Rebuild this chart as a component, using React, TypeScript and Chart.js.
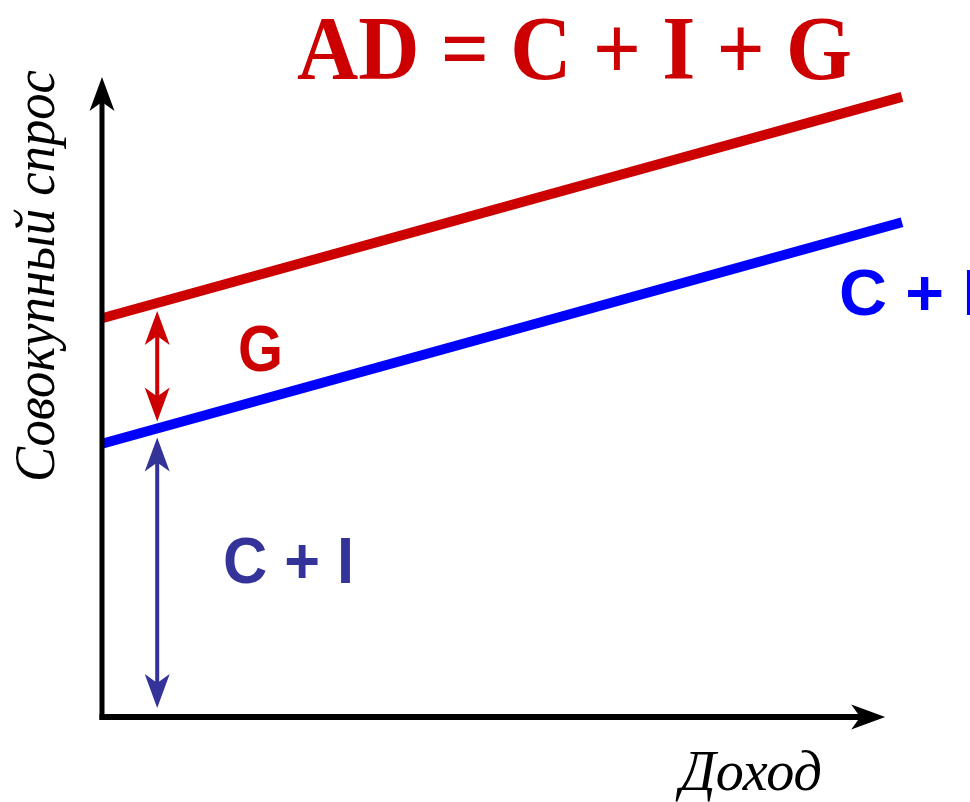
import React, { useEffect, useRef } from "react";
import { Chart, registerables } from "chart.js";

Chart.register(...registerables);

// ---- data ----
const income = [0, 100];
const aggregateDemand = [62.3, 96.9]; // AD = C + I + G
const consumptionInvestment = [42.7, 77.3]; // C + I
const titleText = "AD = C + I + G";
const yAxisTitle = "Совокупный спрос";
const xAxisTitle = "Доход";
const gLabel = "G";
const ciLabel = "C + I";
const xAxisEnd = 97.9; // arrow tip of income axis (data units)
const yAxisEnd = 100; // arrow tip of demand axis (data units)
const arrowX = 6.9; // where the G and C + I brackets stand

const RED = "#cc0000";
const BLUE = "#0000ff";
const NAVY = "#333399";

function lerpLine(values: number[], x: number) {
  const t = (x - income[0]) / (income[1] - income[0]);
  return values[0] + (values[1] - values[0]) * t;
}

function arrowHead(
  ctx: CanvasRenderingContext2D,
  tx: number,
  ty: number,
  dx: number,
  dy: number,
  color: string,
  len = 34,
  half = 12.5,
  notch = 25
) {
  const px = -dy;
  const py = dx;
  ctx.beginPath();
  ctx.moveTo(tx, ty);
  ctx.lineTo(tx - dx * len + px * half, ty - dy * len + py * half);
  ctx.lineTo(tx - dx * notch, ty - dy * notch);
  ctx.lineTo(tx - dx * len - px * half, ty - dy * len - py * half);
  ctx.closePath();
  ctx.fillStyle = color;
  ctx.fill();
}

function doubleArrow(
  ctx: CanvasRenderingContext2D,
  x: number,
  yTop: number,
  yBottom: number,
  color: string
) {
  ctx.save();
  ctx.strokeStyle = color;
  ctx.lineWidth = 4;
  ctx.beginPath();
  ctx.moveTo(x, yTop + 24);
  ctx.lineTo(x, yBottom - 24);
  ctx.stroke();
  arrowHead(ctx, x, yTop, 0, -1, color);
  arrowHead(ctx, x, yBottom, 0, 1, color);
  ctx.restore();
}

function fitText(
  ctx: CanvasRenderingContext2D,
  text: string,
  x: number,
  y: number,
  width: number,
  font: string,
  color: string
) {
  ctx.save();
  ctx.font = font;
  ctx.fillStyle = color;
  ctx.textBaseline = "alphabetic";
  ctx.textAlign = "left";
  const w = ctx.measureText(text).width;
  const s = width / w;
  ctx.translate(x, y);
  ctx.scale(s, 1);
  ctx.fillText(text, 0, 0);
  ctx.restore();
}

const decorPlugin = {
  id: "decor",
  afterDatasetsDraw(chart: any) {
    const ctx: CanvasRenderingContext2D = chart.ctx;
    const xs = chart.scales.x;
    const ys = chart.scales.y;
    const X = (v: number) => xs.getPixelForValue(v);
    const Y = (v: number) => ys.getPixelForValue(v);

    ctx.save();
    // axes
    const ox = X(0);
    const oy = Y(0);
    ctx.strokeStyle = "#000";
    ctx.lineCap = "butt";
    ctx.lineWidth = 5;
    ctx.beginPath();
    ctx.moveTo(ox, oy + 3);
    ctx.lineTo(ox, Y(yAxisEnd) + 25);
    ctx.stroke();
    arrowHead(ctx, ox, Y(yAxisEnd), 0, -1, "#000");

    ctx.lineWidth = 6;
    ctx.beginPath();
    ctx.moveTo(ox - 2.5, oy);
    ctx.lineTo(X(xAxisEnd) - 25, oy);
    ctx.stroke();
    arrowHead(ctx, X(xAxisEnd), oy, 1, 0, "#000");

    // brackets
    const ax = X(arrowX);
    const adPx = Y(lerpLine(aggregateDemand, arrowX));
    const ciPx = Y(lerpLine(consumptionInvestment, arrowX));
    doubleArrow(ctx, ax, adPx + 8, ciPx - 7, RED);
    doubleArrow(ctx, ax, ciPx + 9, oy - 9, NAVY);

    // texts
    fitText(ctx, titleText, 297, 79, 555, "bold 90px 'Liberation Serif'", RED);
    fitText(ctx, gLabel, 238, 371, 45, "bold 65px 'Liberation Sans'", RED);
    fitText(ctx, ciLabel, 839, 315, 142, "bold 65px 'Liberation Sans'", BLUE);
    fitText(ctx, ciLabel, 223, 583, 131, "bold 65px 'Liberation Sans'", NAVY);
    fitText(ctx, xAxisTitle, 680, 790, 142, "italic 56px 'Liberation Serif'", "#000");

    ctx.save();
    ctx.translate(54, 482);
    ctx.rotate(-Math.PI / 2);
    fitText(ctx, yAxisTitle, 0, 0, 412, "italic 58px 'Liberation Serif'", "#000");
    ctx.restore();

    ctx.restore();
  },
};

export default function App() {
  const ref = useRef<HTMLCanvasElement | null>(null);

  useEffect(() => {
    if (!ref.current) return;
    const chart = new Chart(ref.current, {
      type: "line",
      data: {
        datasets: [
          {
            label: "AD = C + I + G",
            data: income.map((x, i) => ({ x, y: aggregateDemand[i] })),
            borderColor: RED,
            borderWidth: 10,
            pointRadius: 0,
            borderCapStyle: "butt",
            clip: false,
          } as any,
          {
            label: "C + I",
            data: income.map((x, i) => ({ x, y: consumptionInvestment[i] })),
            borderColor: BLUE,
            borderWidth: 10,
            pointRadius: 0,
            borderCapStyle: "butt",
            clip: false,
          } as any,
        ],
      },
      options: {
        responsive: false,
        animation: false,
        devicePixelRatio: 1,
        layout: { padding: { left: 102, right: 68, top: 77, bottom: 85 } },
        plugins: { legend: { display: false }, tooltip: { enabled: false } },
        scales: {
          x: { type: "linear", min: 0, max: 100, display: false },
          y: { type: "linear", min: 0, max: 100, display: false },
        },
      },
      plugins: [decorPlugin],
    });
    return () => chart.destroy();
  }, []);

  return (
    <div style={{ position: "fixed", left: 0, top: 0, width: 970, height: 802, background: "#fff" }}>
      <canvas ref={ref} width={970} height={802} style={{ display: "block" }} />
    </div>
  );
}
